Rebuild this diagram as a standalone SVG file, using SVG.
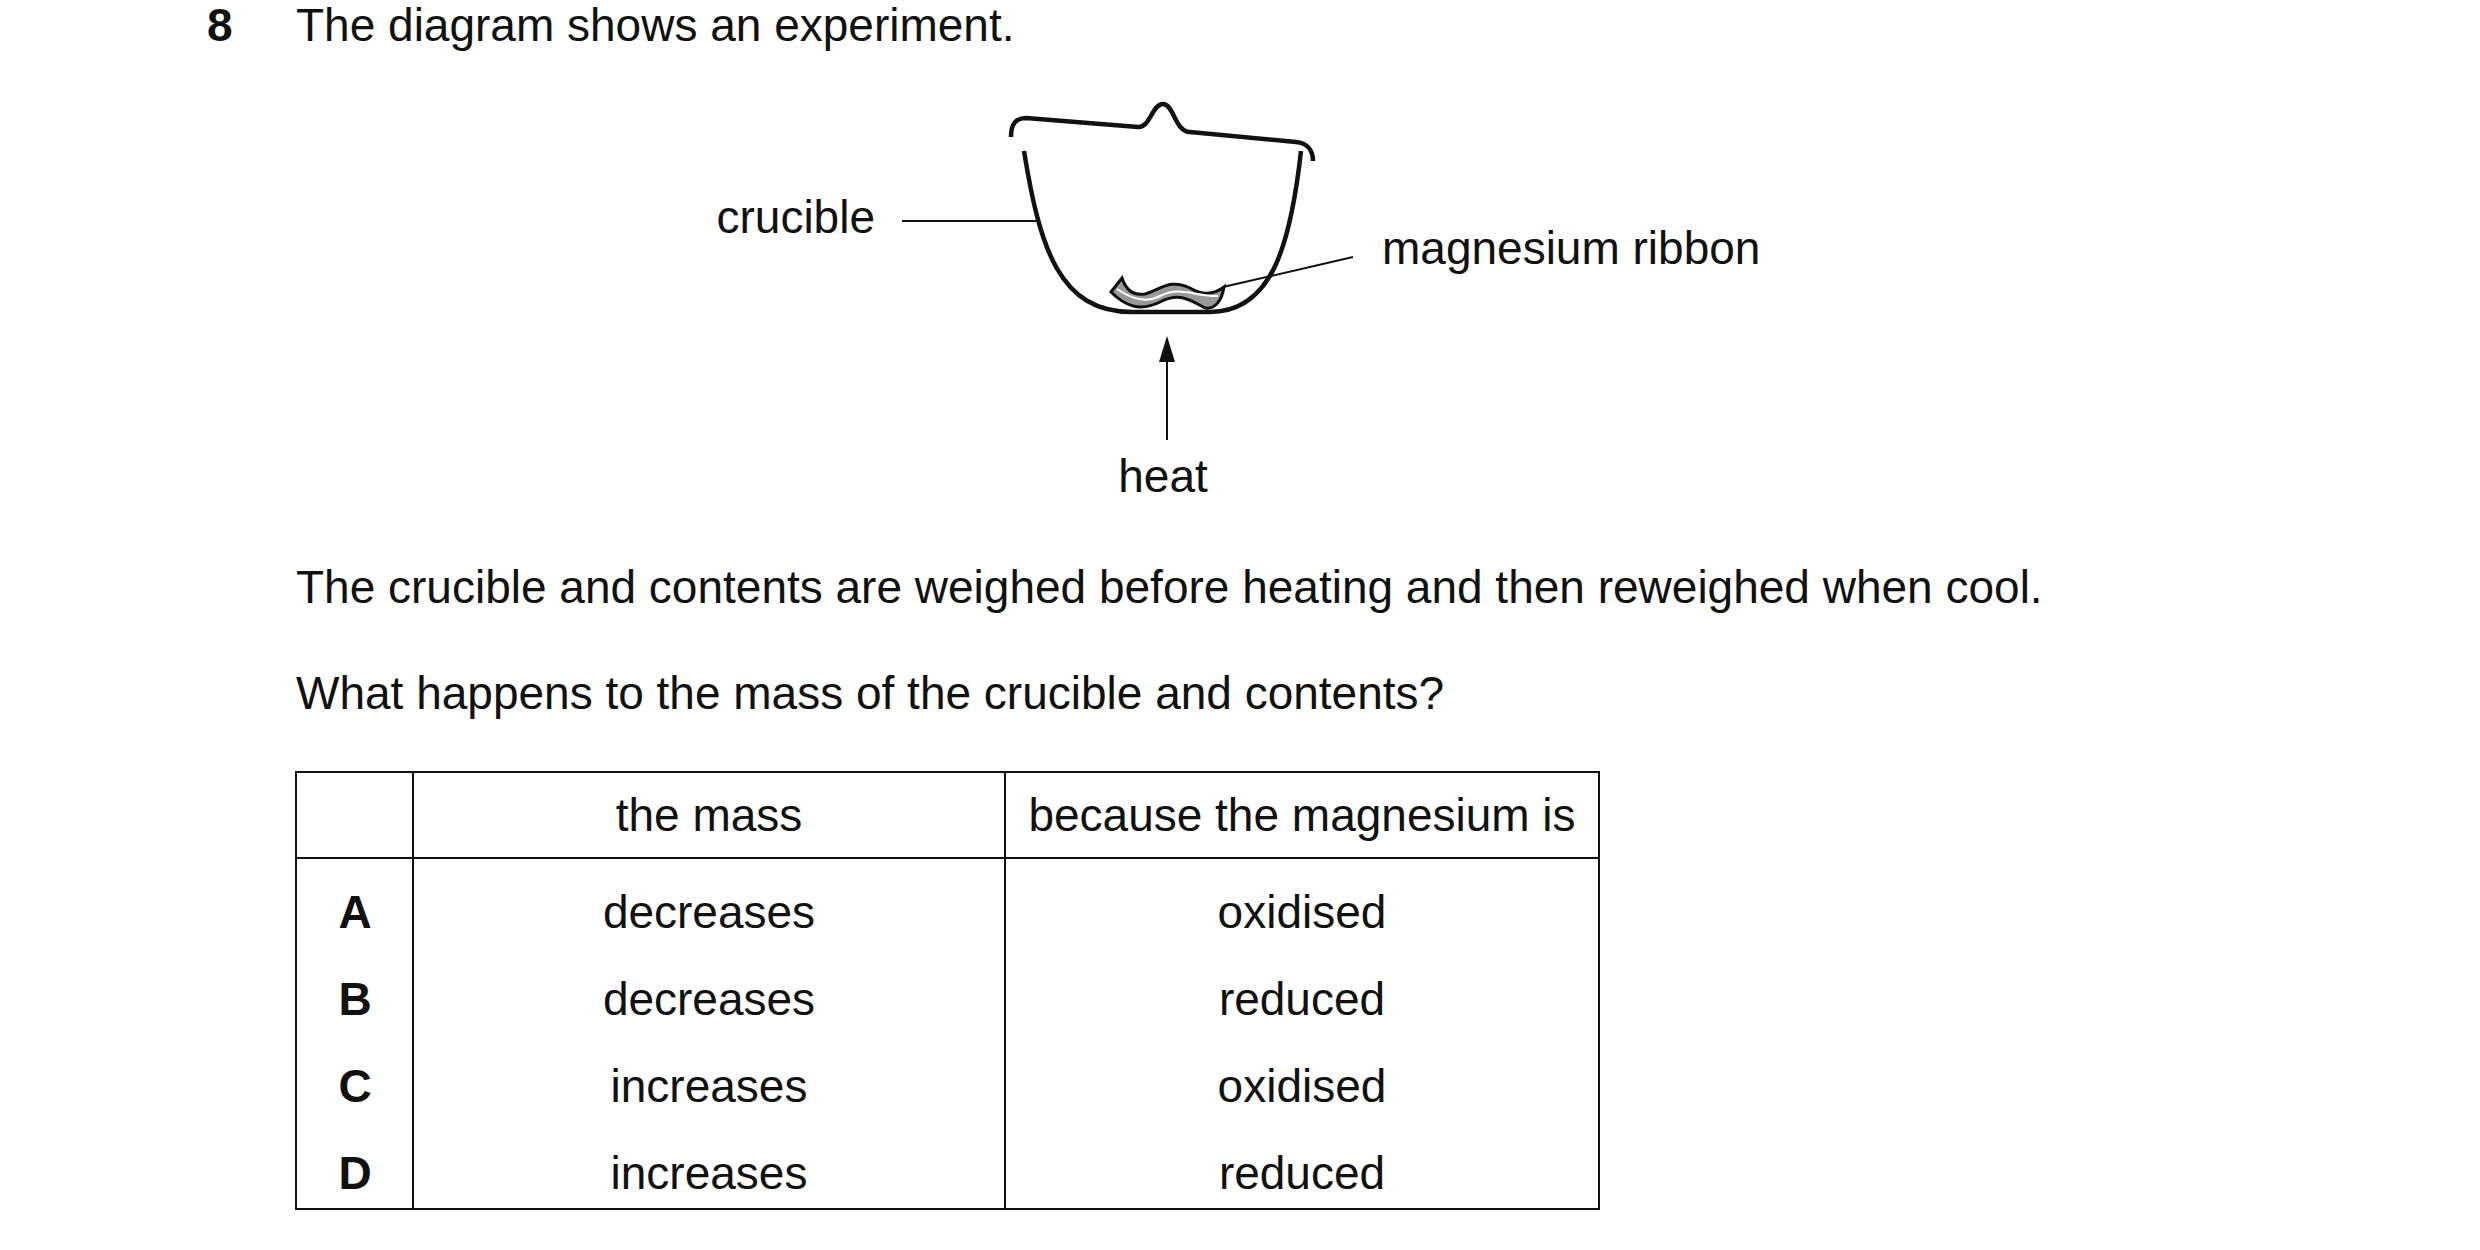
<svg xmlns="http://www.w3.org/2000/svg" width="2480" height="1250" viewBox="0 0 2480 1250">
<style>
text{font-family:"Liberation Sans",Arial,sans-serif;font-size:46px;fill:#111}
.c{text-anchor:middle}
.b{font-weight:bold}
.ln{fill:none;stroke:#111;stroke-width:2}
.thick{fill:none;stroke:#111;stroke-width:4.5;stroke-linecap:butt}
</style>
<rect width="2480" height="1250" fill="#fff"/>
<text x="207" y="41" class="b">8</text>
<text x="296" y="41">The diagram shows an experiment.</text>
<g id="crucible">
<path class="thick" d="M1011,137 C1011,125 1015,118 1026,118 L1138,127 C1150,128 1152,104 1163,104 C1174,104 1175,132 1190,132 L1296,142 C1307,143 1313,150 1313,161"/>
<path class="thick" d="M1024,151 C1040,250 1060,312 1132,312 L1210,312 C1270,312 1290,250 1301,151"/>
</g>
<g id="ribbon">
<path d="M1122,278 L1111,292 C1125,306 1140,312 1160,302 C1180,292 1190,300 1205,308 C1215,310 1222,300 1224,287 C1212,296 1200,294 1190,288 C1170,278 1160,290 1145,294 C1133,296 1126,290 1122,278 Z" fill="#999" stroke="#111" stroke-width="3"/>
<path d="M1117,289 C1130,298 1145,304 1160,296 C1180,286 1192,296 1218,296" fill="none" stroke="#fff" stroke-width="2"/>
</g>
<g id="connectors">
<line class="ln" x1="902" y1="221" x2="1036" y2="221"/>
<line class="ln" x1="1223" y1="287" x2="1353" y2="257"/>
<line class="ln" x1="1167" y1="440" x2="1167" y2="355" stroke-width="3"/>
<polygon points="1167,336 1159,362 1175,362" fill="#111"/>
</g>
<text x="875" y="233" text-anchor="end">crucible</text>
<text x="1382" y="264">magnesium ribbon</text>
<text x="1163" y="492" class="c">heat</text>
<text x="296" y="603">The crucible and contents are weighed before heating and then reweighed when cool.</text>
<text x="296" y="709">What happens to the mass of the crucible and contents?</text>
<g id="table">
<rect x="296" y="772" width="1303" height="437" class="ln" stroke-width="2.5"/>
<line class="ln" x1="296" y1="858" x2="1599" y2="858"/>
<line class="ln" x1="413" y1="772" x2="413" y2="1209"/>
<line class="ln" x1="1005" y1="772" x2="1005" y2="1209"/>
<text x="709" y="831" class="c">the mass</text>
<text x="1302" y="831" class="c">because the magnesium is</text>
<text x="355" y="928" class="c b">A</text><text x="709" y="928" class="c">decreases</text><text x="1302" y="928" class="c">oxidised</text>
<text x="355" y="1015" class="c b">B</text><text x="709" y="1015" class="c">decreases</text><text x="1302" y="1015" class="c">reduced</text>
<text x="355" y="1102" class="c b">C</text><text x="709" y="1102" class="c">increases</text><text x="1302" y="1102" class="c">oxidised</text>
<text x="355" y="1189" class="c b">D</text><text x="709" y="1189" class="c">increases</text><text x="1302" y="1189" class="c">reduced</text>
</g>
</svg>
